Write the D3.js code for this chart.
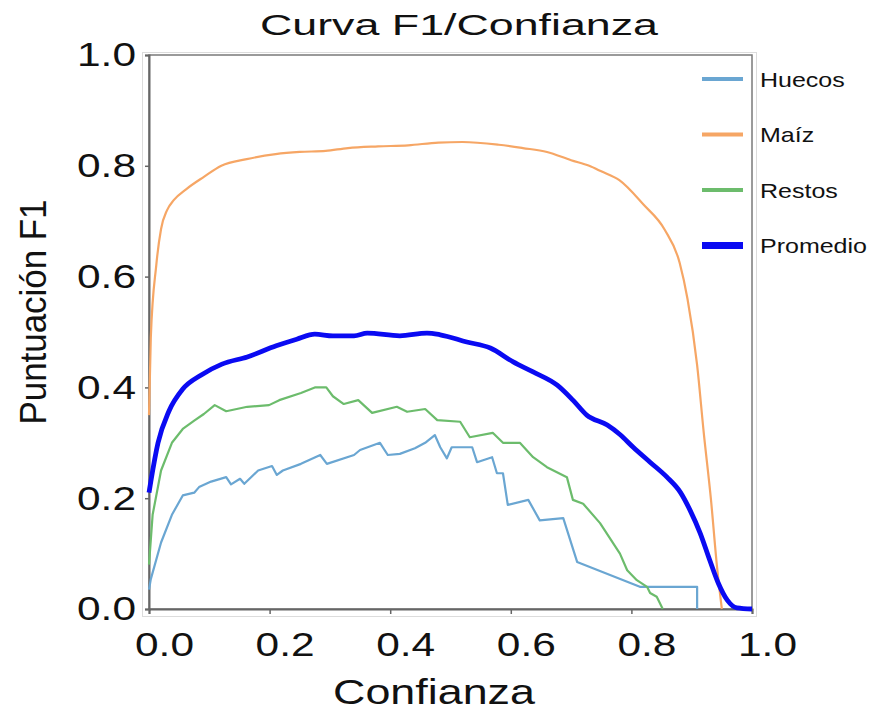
<!DOCTYPE html>
<html>
<head>
<meta charset="utf-8">
<script src="https://cdn.jsdelivr.net/npm/d3@7"></script>
<style>
  body { margin: 0; background: #fff; }
  text { font-family: "Liberation Sans", Arial, sans-serif; fill: #111; }
</style>
</head>
<body>
<div id="chart"></div>
<script>
// tick values
const xTicks = [0, 0.2, 0.4, 0.6, 0.8, 1.0];
const yTicks = [0, 0.2, 0.4, 0.6, 0.8, 1.0];

// [confianza, F1]
const huecos = [
  [0, 0.035], [0.003, 0.054], [0.02, 0.12], [0.038, 0.17], [0.056, 0.205], [0.075, 0.21],
  [0.083, 0.22], [0.103, 0.23], [0.128, 0.238], [0.136, 0.225], [0.151, 0.235], [0.158, 0.226],
  [0.181, 0.25], [0.204, 0.258], [0.212, 0.242], [0.222, 0.25], [0.252, 0.262], [0.284, 0.278],
  [0.295, 0.262], [0.34, 0.278], [0.35, 0.287], [0.383, 0.30], [0.396, 0.278], [0.416, 0.28],
  [0.441, 0.29], [0.458, 0.30], [0.474, 0.314], [0.483, 0.292], [0.494, 0.272], [0.502, 0.292],
  [0.536, 0.292], [0.544, 0.265], [0.569, 0.274], [0.577, 0.245], [0.587, 0.245], [0.595, 0.188],
  [0.629, 0.197], [0.648, 0.16], [0.687, 0.164], [0.71, 0.085], [0.814, 0.04], [0.909, 0.04],
  [0.909, 0]
];

const maiz = [
  [0, 0.35], [0.003, 0.49], [0.012, 0.62], [0.02, 0.686], [0.03, 0.72], [0.041, 0.738],
  [0.062, 0.758], [0.091, 0.78], [0.12, 0.80], [0.162, 0.812], [0.21, 0.821], [0.25, 0.825],
  [0.293, 0.827], [0.33, 0.832], [0.38, 0.835], [0.43, 0.837], [0.48, 0.842], [0.52, 0.843],
  [0.58, 0.838], [0.62, 0.832], [0.66, 0.825], [0.70, 0.81], [0.73, 0.80], [0.75, 0.79],
  [0.78, 0.774], [0.82, 0.73], [0.855, 0.685], [0.88, 0.625], [0.893, 0.56], [0.909, 0.44],
  [0.92, 0.318], [0.932, 0.197], [0.942, 0.076], [0.95, 0]
];

const restos = [
  [0, 0.08], [0.006, 0.17], [0.02, 0.25], [0.038, 0.30], [0.056, 0.325], [0.075, 0.34],
  [0.091, 0.352], [0.109, 0.368], [0.128, 0.357], [0.163, 0.365], [0.199, 0.368], [0.216, 0.377],
  [0.252, 0.39], [0.275, 0.40], [0.294, 0.40], [0.305, 0.384], [0.323, 0.37], [0.347, 0.377],
  [0.37, 0.354], [0.411, 0.365], [0.428, 0.356], [0.458, 0.361], [0.478, 0.341], [0.516, 0.338],
  [0.532, 0.31], [0.57, 0.318], [0.587, 0.30], [0.615, 0.30], [0.637, 0.274], [0.66, 0.256],
  [0.693, 0.238], [0.703, 0.197], [0.72, 0.19], [0.748, 0.155], [0.781, 0.10], [0.793, 0.07],
  [0.809, 0.052], [0.826, 0.04], [0.831, 0.029], [0.842, 0.022], [0.852, 0]
];

const promedio = [
  [0, 0.21], [0.003, 0.23], [0.015, 0.30], [0.033, 0.357], [0.056, 0.397], [0.086, 0.422],
  [0.121, 0.442], [0.163, 0.455], [0.211, 0.475], [0.245, 0.487], [0.275, 0.496], [0.305, 0.493],
  [0.34, 0.493], [0.362, 0.498], [0.416, 0.493], [0.461, 0.498], [0.483, 0.495], [0.527, 0.482],
  [0.566, 0.471], [0.604, 0.446], [0.637, 0.428], [0.677, 0.404], [0.703, 0.377], [0.726, 0.35],
  [0.76, 0.332], [0.781, 0.315], [0.803, 0.292], [0.831, 0.265], [0.859, 0.238], [0.881, 0.211],
  [0.897, 0.179], [0.914, 0.137], [0.93, 0.088], [0.944, 0.047], [0.959, 0.016], [0.975, 0.002],
  [1.0, 0]
];

const series = [
  { name: "Huecos", values: huecos, color: "#6aa6d2", width: 2.2, curve: d3.curveLinear },
  { name: "Maíz", values: maiz, color: "#f6a665", width: 2.2, curve: d3.curveMonotoneX },
  { name: "Restos", values: restos, color: "#6cbc6c", width: 2.2, curve: d3.curveLinear },
  { name: "Promedio", values: promedio, color: "#0a0af2", width: 4.8, curve: d3.curveMonotoneX }
];

const W = 871, H = 711;
const x = d3.scaleLinear().domain([0, 1]).range([149, 752]);
const y = d3.scaleLinear().domain([0, 1]).range([609, 55]);

const svg = d3.select("#chart").append("svg")
  .attr("width", W)
  .attr("height", H);

// stretch text to a measured width
const fit = (sel, w) => sel.attr("textLength", w).attr("lengthAdjust", "spacingAndGlyphs");

// faint outer border and plot frame
svg.append("rect")
  .attr("x", 142.5).attr("y", 52.5)
  .attr("width", 614).attr("height", 564)
  .attr("fill", "none").attr("stroke", "#dcdcdc");

svg.append("rect")
  .attr("x", x(0)).attr("y", y(1))
  .attr("width", x(1) - x(0)).attr("height", y(0) - y(1))
  .attr("fill", "none").attr("stroke", "#7a7a7a").attr("stroke-width", 1.5);

// axes
const xAxis = svg.append("g")
  .attr("transform", `translate(0,${y(0)})`)
  .call(d3.axisBottom(x).tickValues(xTicks).tickFormat(d3.format(".1f")).tickSize(5));
xAxis.select(".domain").attr("stroke", "#666").attr("stroke-width", 2);
xAxis.selectAll(".tick line").attr("stroke", "#666").attr("stroke-width", 1.5);
xAxis.selectAll(".tick text")
  .attr("font-size", 34)
  .attr("y", 23)
  .attr("dx", 15)
  .call(fit, 59);

const yAxis = svg.append("g")
  .attr("transform", `translate(${x(0)},0)`)
  .call(d3.axisLeft(y).tickValues(yTicks).tickFormat(d3.format(".1f")).tickSize(4));
yAxis.select(".domain").attr("stroke", "#666").attr("stroke-width", 2);
yAxis.selectAll(".tick line").attr("stroke", "#666").attr("stroke-width", 1.5);
yAxis.selectAll(".tick text")
  .attr("font-size", 34)
  .attr("x", -13)
  .call(fit, 59);

// curves
const line = d3.line().x(d => x(d[0])).y(d => y(d[1]));

svg.append("g").selectAll("path")
  .data(series)
  .join("path")
  .attr("fill", "none")
  .attr("stroke", d => d.color)
  .attr("stroke-width", d => d.width)
  .attr("stroke-linejoin", "round")
  .attr("d", d => line.curve(d.curve)(d.values));

// legend
const legend = svg.append("g").selectAll("g")
  .data(series)
  .join("g")
  .attr("transform", (d, i) => `translate(702,${79 + i * 55.5})`);

legend.append("line")
  .attr("x1", 0).attr("x2", 41)
  .attr("stroke", d => d.color)
  .attr("stroke-width", d => d.width > 3 ? 7 : 4);

legend.append("text")
  .attr("x", 58)
  .attr("dy", "0.36em")
  .attr("font-size", 21)
  .text(d => d.name)
  .each(function () {
    const w = this.getComputedTextLength();
    d3.select(this).call(fit, w * 1.19);
  });

// titles
svg.append("text")
  .attr("x", 459).attr("y", 35)
  .attr("text-anchor", "middle")
  .attr("font-size", 30)
  .text("Curva F1/Confianza")
  .call(fit, 398);

svg.append("text")
  .attr("x", 434).attr("y", 704)
  .attr("text-anchor", "middle")
  .attr("font-size", 35)
  .text("Confianza")
  .call(fit, 202);

svg.append("text")
  .attr("transform", "translate(46,312) rotate(-90)")
  .attr("text-anchor", "middle")
  .attr("font-size", 37)
  .text("Puntuación F1")
  .call(fit, 225);
</script>
</body>
</html>
